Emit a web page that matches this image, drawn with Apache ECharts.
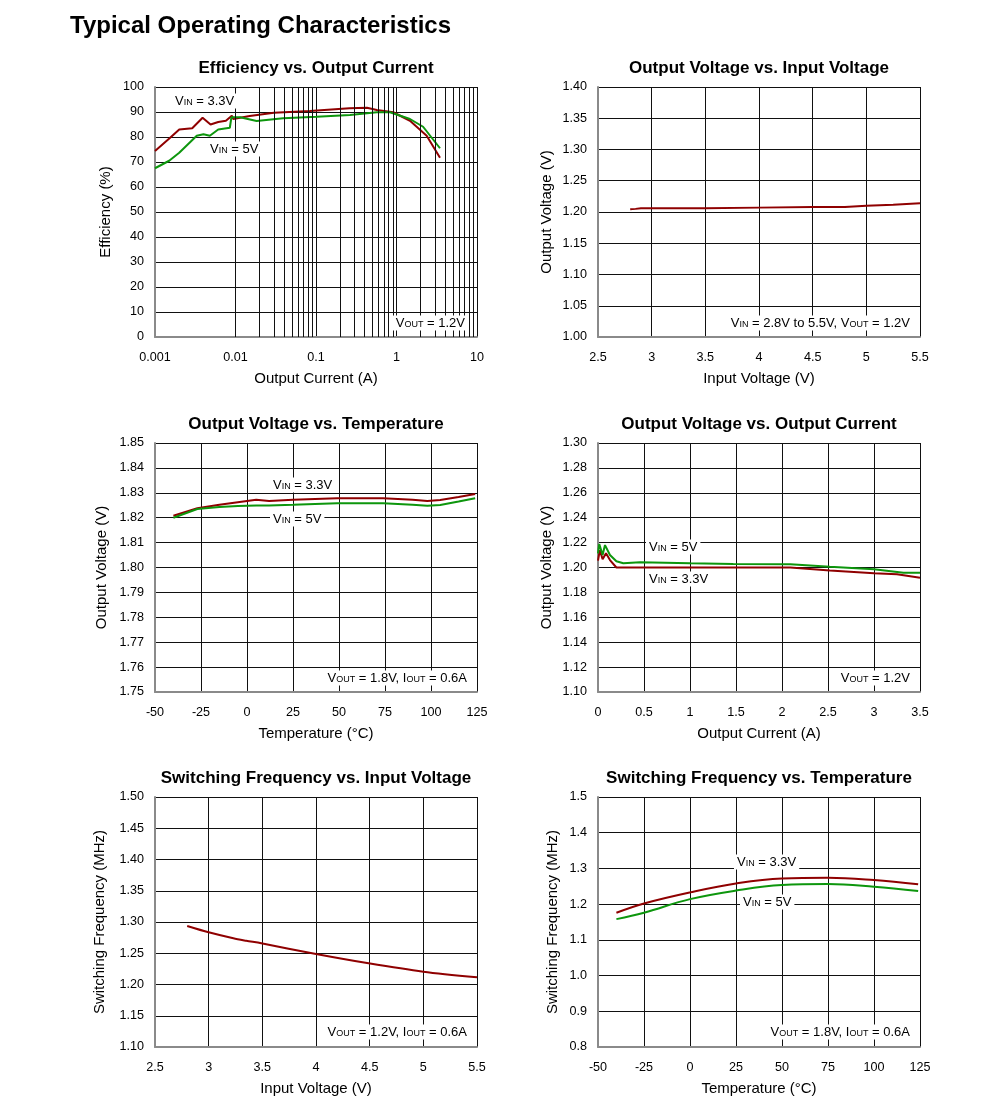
<!DOCTYPE html>
<html><head><meta charset="utf-8">
<script src="https://cdn.jsdelivr.net/npm/echarts@6/dist/echarts.min.js"></script>
<style>html,body{margin:0;padding:0;background:#fff}#c{width:991px;height:1107px}</style>
</head><body><div id="c"></div><script>
// ---- Data ----
// Chart 1: Efficiency vs Output Current (log x)
const effI33 = [0.001,0.00153,0.002,0.0029,0.0039,0.0049,0.0061,0.0076,0.009,0.0094,0.015,0.03,0.084,0.26,0.43,0.57,0.91,1.47,2.37,3.47];
const eff33  = [74.4,79.6,83,83.5,87.7,85,86,86.5,88.5,87.2,88.4,89.7,90.4,91.5,91.7,90.8,89.9,86.5,80.5,71.7];
const effI5  = [0.001,0.0015,0.002,0.0033,0.004,0.0048,0.0061,0.0085,0.0089,0.0114,0.0183,0.039,0.102,0.264,0.57,0.83,1.47,2.14,3.47];
const eff5   = [67.5,70.5,73.7,80.5,81.1,80.5,83,83.7,87.9,87.9,86.4,87.5,88.1,88.8,89.9,89.9,87.2,84.1,75.5];
const logMinorTicks = [0.002,0.003,0.004,0.005,0.006,0.007,0.008,0.009,0.02,0.03,0.04,0.05,0.06,0.07,0.08,0.09,0.2,0.3,0.4,0.5,0.6,0.7,0.8,0.9,2,3,4,5,6,7,8,9];
// Chart 2: Output Voltage vs Input Voltage
const vin2  = [2.8,2.85,2.9,3.0,3.5,4.0,4.5,4.8,5.0,5.25,5.5];
const vout2 = [1.2045,1.205,1.206,1.206,1.206,1.207,1.208,1.208,1.210,1.2115,1.214];
// Chart 3: Output Voltage vs Temperature
const temp3 = [-40,-27,-15,-5,5,12,25,49,74,90,98,105,115,124];
const vo33_3 = [1.8208,1.8238,1.8252,1.8262,1.8272,1.8267,1.8272,1.8278,1.8278,1.8272,1.8267,1.8271,1.8283,1.8295];
const vo5_3  = [1.8200,1.8235,1.8243,1.8247,1.8249,1.8249,1.8252,1.8258,1.8258,1.8252,1.8248,1.8251,1.8265,1.8278];
// Chart 4: Output Voltage vs Output Current
const io5_4  = [0,0.014,0.05,0.076,0.13,0.2,0.275,0.457,1.0,1.47,2.09,2.52,3.0,3.32,3.5];
const vo5_4  = [1.2114,1.2189,1.210,1.218,1.21,1.205,1.2034,1.2042,1.2034,1.2028,1.2026,1.2006,1.1985,1.1958,1.1958];
const io33_4 = [0,0.02,0.05,0.087,0.13,0.2,0.5,1.0,1.5,2.09,2.52,3.0,3.25,3.5];
const vo33_4 = [1.2055,1.214,1.2066,1.2114,1.206,1.2,1.2,1.2,1.2,1.2,1.1976,1.1953,1.1945,1.1918];
// Chart 5: Switching Frequency vs Input Voltage
const vin5 = [2.8,3.0,3.23,3.35,3.49,4.0,4.49,5.0,5.5];
const fsw5 = [1.2936,1.2835,1.2739,1.270,1.2659,1.2488,1.2339,1.2205,1.2115];
// Chart 6: Switching Frequency vs Temperature
const temp6 = [-40,-25,0,25,50,75,100,124];
const f33_6 = [1.176,1.202,1.233,1.258,1.272,1.274,1.2675,1.2555];
const f5_6  = [1.158,1.176,1.214,1.238,1.2535,1.2563,1.2488,1.2367];

const titles = ['Efficiency vs. Output Current','Output Voltage vs. Input Voltage','Output Voltage vs. Temperature','Output Voltage vs. Output Current','Switching Frequency vs. Input Voltage','Switching Frequency vs. Temperature'];

// ---- Layout ----
const FONT = '"Liberation Sans", Arial, sans-serif';
const RED = '#8f0000', GREEN = '#0d960d';
const grids = [
  {left:155, top:87, width:322, height:250},
  {left:598, top:87, width:322, height:250},
  {left:155, top:443, width:322, height:249},
  {left:598, top:443, width:322, height:249},
  {left:155, top:797, width:322, height:250},
  {left:598, top:797, width:322, height:250}
];
const pair = (xs, ys) => xs.map((x,i)=>[x, ys[i]]);
const axisLine = {show:true, onZero:false, lineStyle:{color:'#8a8a8a', width:2}};
const split = {show:true, lineStyle:{color:'#111', width:1}};
const lbl = (margin, fmt) => ({color:'#000', fontSize:12.6, fontFamily:FONT, margin, formatter:fmt, showMinLabel:true, showMaxLabel:true});
const nameStyle = {color:'#000', fontSize:15, fontFamily:FONT};
const numFmt = d => v => (Math.abs(v) < 1e-9 ? 0 : v).toFixed(d);
const trimFmt = v => String(Number(v.toFixed(4)));

function xVal(gi, min, max, interval, name, fmt){
  return {type:'value', gridIndex:gi, min, max, interval, name, nameLocation:'middle', nameGap:34, nameTextStyle:nameStyle,
    axisLine, axisTick:{show:false}, splitLine:split, axisLabel:lbl(14, fmt)};
}
function yVal(gi, min, max, interval, name, fmt, gap){
  return {type:'value', gridIndex:gi, min, max, interval, name, nameLocation:'middle', nameGap:gap, nameTextStyle:nameStyle,
    axisLine, axisTick:{show:false}, splitLine:split, axisLabel:lbl(11, fmt)};
}
const xAxes = [
  {type:'log', logBase:10, gridIndex:0, min:0.001, max:10, name:'Output Current (A)', nameLocation:'middle', nameGap:34, nameTextStyle:nameStyle,
   axisLine, axisTick:{show:false}, splitLine:split, minorTick:{show:false}, minorSplitLine:{show:false},
   axisLabel:lbl(14, v => String(Number(Number(v).toPrecision(3))))},
  xVal(1, 2.5, 5.5, 0.5, 'Input Voltage (V)', trimFmt),
  xVal(2, -50, 125, 25, 'Temperature (°C)', trimFmt),
  xVal(3, 0, 3.5, 0.5, 'Output Current (A)', trimFmt),
  xVal(4, 2.5, 5.5, 0.5, 'Input Voltage (V)', trimFmt),
  xVal(5, -50, 125, 25, 'Temperature (°C)', trimFmt)
];
const yAxes = [
  yVal(0, 0, 100, 10, 'Efficiency (%)', trimFmt, 42),
  yVal(1, 1.0, 1.4, 0.05, 'Output Voltage (V)', numFmt(2), 44),
  yVal(2, 1.75, 1.85, 0.01, 'Output Voltage (V)', numFmt(2), 46),
  yVal(3, 1.1, 1.3, 0.02, 'Output Voltage (V)', numFmt(2), 44),
  yVal(4, 1.1, 1.5, 0.05, 'Switching Frequency (MHz)', numFmt(2), 48),
  yVal(5, 0.8, 1.5, 0.1, 'Switching Frequency (MHz)', numFmt(1), 38)
];
function line(gi, data, color, smooth){
  return {type:'line', xAxisIndex:gi, yAxisIndex:gi, data, showSymbol:false, symbol:'none', smooth:smooth||false,
    lineStyle:{color, width:2}, itemStyle:{color}, z:3, animation:false};
}
const series = [
  {type:'line', xAxisIndex:0, yAxisIndex:0, data:[], z:1, silent:true, animation:false,
   markLine:{silent:true, symbol:'none', label:{show:false}, animation:false,
     lineStyle:{color:'#111', width:1, type:'solid'}, data:logMinorTicks.map(v=>({xAxis:v}))}},
  line(0, pair(effI33, eff33), RED),
  line(0, pair(effI5, eff5), GREEN),
  line(1, pair(vin2, vout2), RED),
  line(2, pair(temp3, vo33_3), RED),
  line(2, pair(temp3, vo5_3), GREEN),
  line(3, pair(io33_4, vo33_4), RED),
  line(3, pair(io5_4, vo5_4), GREEN),
  line(4, pair(vin5, fsw5), RED, 0.3),
  line(5, pair(temp6, f33_6), RED, 0.4),
  line(5, pair(temp6, f5_6), GREEN, 0.4)
];
const titleComps = [{text:'Typical Operating Characteristics', left:70, top:14, padding:0,
  textStyle:{fontSize:24, fontWeight:'bold', fontFamily:FONT, color:'#000'}}];
titles.forEach((t,i)=>{
  const g = grids[i];
  titleComps.push({text:t, left:g.left + g.width/2, top:g.top - 27, padding:0, textAlign:'center',
    textStyle:{fontSize:17, fontWeight:'bold', fontFamily:FONT, color:'#000'}});
});
// annotations: [text, x, y, align]
const notes = [
  ['V{s|IN} = 3.3V', 172, 101, 'left'],
  ['V{s|IN} = 5V', 207, 149, 'left'],
  ['V{s|OUT} = 1.2V', 468, 323, 'right'],
  ['V{s|IN} = 2.8V to 5.5V, V{s|OUT} = 1.2V', 913, 323, 'right'],
  ['V{s|IN} = 3.3V', 270, 485, 'left'],
  ['V{s|IN} = 5V', 270, 519, 'left'],
  ['V{s|OUT} = 1.8V, I{s|OUT} = 0.6A', 470, 678, 'right'],
  ['V{s|IN} = 5V', 646, 547, 'left'],
  ['V{s|IN} = 3.3V', 646, 579, 'left'],
  ['V{s|OUT} = 1.2V', 913, 678, 'right'],
  ['V{s|OUT} = 1.2V, I{s|OUT} = 0.6A', 470, 1032, 'right'],
  ['V{s|IN} = 3.3V', 734, 862, 'left'],
  ['V{s|IN} = 5V', 740, 902, 'left'],
  ['V{s|OUT} = 1.8V, I{s|OUT} = 0.6A', 913, 1032, 'right']
];
const graphic = notes.map(n => ({type:'text', x:n[1], y:n[2], z:10,
  style:{text:n[0], align:n[3], verticalAlign:'middle', fill:'#000', fontSize:13, fontFamily:FONT,
    backgroundColor:'#fff', padding:[1,3,1,3],
    rich:{s:{fontSize:9, fontFamily:FONT, fill:'#000', verticalAlign:'bottom', padding:[3,0,0,0]}}}}));

const chart = echarts.init(document.getElementById('c'), null, {renderer:'canvas'});
chart.setOption({
  backgroundColor:'#fff', animation:false,
  title:titleComps, grid:grids, xAxis:xAxes, yAxis:yAxes, series, graphic
});
</script></body></html>
